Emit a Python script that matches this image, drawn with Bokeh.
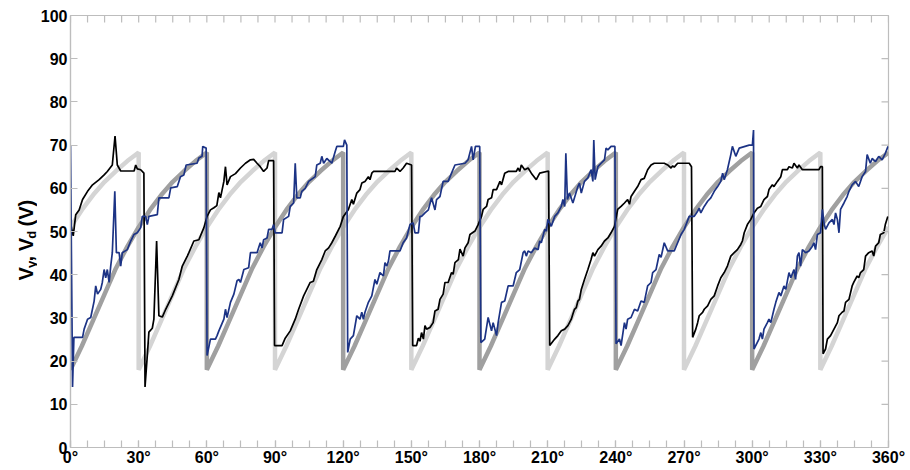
import math
from bokeh.plotting import figure
from bokeh.models import Range1d, FixedTicker
from bokeh.layouts import row
from bokeh.core.properties import value
from bokeh.embed import file_html
from bokeh.resources import INLINE

# ---------------- data ----------------
# ideal ramp profile (degrees after firing, volts)
ramp_phi = [0, 5, 10, 15, 20, 25, 30, 35, 40, 45, 50, 55, 60]
ramp_v = [18.0, 23.5, 29.5, 35.5, 41.5, 46.5, 51.0, 55.0, 58.5, 61.5, 64.0, 66.3, 68.3]
light_starts = [-30, 30, 90, 150, 210, 270, 330]
dark_starts = [0, 60, 120, 180, 240, 300]

black_deg = [0, 1.2, 2.3, 3.8, 5.3, 7.5, 9.7, 12.6, 14.8, 16.2, 18.4, 19.6, 20.6, 22.1, 28.0, 28.7, 29.4, 30.9, 32.3, 32.8,
             33.8, 34.5, 36.0, 36.7, 37.9, 38.9, 40.4, 41.9, 44.8, 47.7, 49.2, 51.4, 52.1, 54.3, 56.5, 58.7, 60.1, 61.6,
             63.1, 64.4, 65.3, 66.0, 67.5, 68.2, 68.9, 70.4, 72.6, 74.8, 77.0, 79.2, 80.6, 82.1, 83.5, 85.0, 86.5, 87.2,
             89.4, 89.8, 93.1, 94.5, 96.7, 98.9, 100.4, 102.6, 104.0, 105.5, 106.9, 108.4, 110.6, 112.1, 113.6, 115.0,
             116.5, 118.7, 120.1, 122.3, 123.8, 124.5, 126.0, 127.4, 128.2, 129.6, 131.1, 131.8, 132.6, 133.3, 142.8,
             143.5, 145.0, 146.4, 147.9, 150.1, 150.6, 152.3, 153.1, 153.8, 154.5, 155.3, 156.0, 156.7, 158.2, 159.6,
             160.4, 161.8, 162.6, 164.0, 164.8, 166.2, 167.7, 168.4, 169.2, 170.7, 171.4, 172.8, 173.6, 175.0, 175.8,
             178.0, 179.4, 180.9, 181.6, 183.1, 183.8, 185.3, 186.0, 187.5, 189.0, 189.7, 191.1, 192.6, 196.2, 197.0,
             197.7, 198.4, 199.9, 201.4, 202.8, 205.0, 206.5, 210.4, 210.9, 213.1, 214.5, 216.0, 217.5, 218.9, 219.6,
             220.4, 221.1, 221.8, 222.6, 223.3, 224.0, 224.8, 226.2, 227.7, 229.1, 229.9, 230.6, 232.1, 233.5, 235.0,
             236.5, 237.9, 239.4, 240.8, 242.3, 243.8, 245.2, 246.0, 246.7, 248.2, 249.6, 251.1, 252.5, 254.0, 255.5,
             256.9, 261.3, 262.8, 264.3, 265.0, 265.7, 267.2, 272.3, 273.3, 273.8, 275.2, 276.0, 276.7, 278.2, 278.9,
             280.4, 281.8, 283.3, 284.8, 286.2, 287.7, 289.1, 290.6, 292.1, 293.5, 295.0, 295.7, 296.5, 297.9, 299.4,
             300.8, 302.3, 303.8, 305.2, 306.7, 307.4, 308.9, 309.6, 311.1, 312.6, 313.3, 315.5, 316.2, 317.7, 318.4,
             319.9, 320.6, 322.1, 329.4, 330.1, 330.9, 331.2, 332.3, 333.1, 334.5, 336.0, 337.5, 338.2, 339.6, 340.4,
             341.1, 342.6, 344.0, 344.7, 346.2, 346.9, 347.7, 349.1, 349.9, 351.3, 352.8, 353.5, 354.3, 355.7, 356.4,
             357.9, 358.6, 359.7]
black_v = [52.0, 49.0, 53.9, 55.0, 57.4, 59.3, 60.8, 62.0, 63.1, 63.9, 65.4, 72.1, 65.4, 64.0, 64.0, 65.4, 64.5, 64.3, 63.5, 14.0,
           21.3, 26.7, 27.6, 29.7, 47.8, 30.5, 30.2, 32.0, 35.1, 38.9, 42.0, 44.3, 45.1, 47.8, 48.1, 50.9, 53.5, 55.0,
           55.5, 56.0, 59.0, 57.8, 61.6, 65.0, 60.8, 62.7, 63.4, 64.7, 65.8, 66.6, 66.7, 65.8, 65.0, 63.9, 64.7, 66.4,
           66.4, 23.6, 23.6, 25.3, 27.0, 29.7, 32.0, 35.1, 36.6, 38.2, 38.5, 41.2, 43.5, 45.5, 46.2, 47.4,
           48.9, 51.2, 53.5, 55.1, 57.4, 56.3, 58.9, 59.7, 61.2, 61.6, 62.7, 62.0, 63.5, 63.9, 63.9,
           64.7, 63.9, 64.7, 65.8, 65.4, 23.6, 23.6, 25.3, 24.6, 26.6, 25.1, 28.2, 27.4, 27.8, 28.9,
           31.6, 32.0, 34.3, 35.5, 38.2, 38.2, 40.5, 40.1, 42.8, 43.5, 45.9, 44.3, 46.2, 47.4, 49.3,
           50.1, 51.6, 53.5, 55.1, 55.8, 57.4, 57.8, 59.7, 59.7, 61.6, 60.8, 63.5, 63.9, 63.9, 64.7,
           63.9, 65.4, 64.3, 64.7, 63.5, 62.0, 63.5, 64.0, 23.6, 25.1, 25.9, 27.0, 27.4, 28.2, 28.9,
           29.7, 30.9, 32.0, 32.4, 33.9, 34.3, 36.6, 38.9, 41.2, 43.5, 45.1, 44.3, 45.8, 46.6, 47.8,
           48.5, 49.7, 51.2, 55.1, 55.8, 56.6, 57.4, 56.3, 58.1, 59.3, 60.4, 62.0, 62.3, 64.3, 65.4,
           65.8, 65.8, 65.4, 64.7, 65.2, 64.9, 65.8, 65.8, 65.0, 25.5, 27.4, 28.9, 30.5, 31.3, 32.0,
           32.8, 34.3, 35.1, 37.4, 39.3, 40.5, 42.0, 44.3, 45.1, 45.8, 47.0, 47.8, 49.7, 51.6, 52.8,
           54.3, 55.4, 55.8, 57.4, 58.1, 59.7, 60.8, 60.4, 61.6, 62.7, 64.3, 64.3, 65.0, 64.7, 65.8,
           64.7, 65.4, 64.3, 64.3, 65.0, 65.0, 21.7, 22.8, 25.1, 25.9, 27.4, 28.9, 30.5, 31.3, 31.6,
           33.6, 34.3, 37.4, 38.2, 39.7, 39.3, 40.5, 41.2, 44.3, 45.1, 45.5, 44.3, 46.6, 47.4, 49.3,
           49.7, 51.6, 53.5]

blue_deg = [0, 0.9, 1.5, 5.3, 6.0, 7.5, 8.9, 10.4, 11.1, 11.9, 13.3, 14.0, 14.8, 15.5, 16.2, 17.0, 17.7, 18.4, 19.5, 20.2,
            21.4, 22.1, 22.8, 25.0, 26.5, 27.9, 29.4, 30.9, 31.6, 33.1, 33.8, 34.5, 38.2, 38.9, 43.3, 44.1, 47.0, 48.4,
            49.9, 50.9, 55.7, 56.5, 57.9, 58.2, 59.7, 60.1, 61.6, 63.8, 64.5, 65.3, 67.5, 68.2, 68.9, 70.4, 71.9, 73.3,
            74.1, 74.8, 76.3, 78.4, 79.2, 82.1, 83.5, 84.3, 85.0, 86.5, 87.2, 88.7, 89.4, 90.1, 93.1, 93.8, 96.0, 96.7,
            98.2, 98.9, 99.6, 101.1, 101.8, 103.3, 104.8, 107.7, 108.4, 109.9, 110.6, 111.4, 112.8, 114.3, 115.0, 116.5,
            117.2, 120.1, 120.6, 121.6, 122.0, 123.1, 124.5, 126.0, 127.4, 128.2, 128.9, 129.6, 131.1, 132.6, 134.0,
            134.8, 136.2, 137.7, 138.4, 139.2, 139.9, 140.6, 145.0, 146.4, 147.9, 149.4, 150.8, 151.6, 153.1, 153.8,
            154.5, 156.0, 157.5, 158.9, 160.4, 161.1, 162.6, 164.0, 166.2, 167.7, 169.2, 173.6, 175.0, 176.5, 177.2,
            178.2, 180.1, 180.6, 182.3, 183.8, 185.3, 186.0, 187.5, 188.2, 189.7, 191.1, 192.6, 194.8, 196.2, 197.7,
            199.2, 199.9, 200.6, 201.4, 202.8, 204.3, 205.8, 206.5, 207.2, 208.7, 209.4, 210.1, 211.6, 213.1, 214.5,
            216.0, 216.7, 217.5, 218.0, 218.7, 219.6, 221.1, 221.8, 223.3, 224.0, 224.8, 226.2, 227.7, 229.1, 229.9,
            230.3, 230.9, 232.1, 233.5, 235.0, 235.7, 236.5, 237.9, 239.6, 240.1, 241.6, 242.3, 243.8, 244.5, 245.2,
            246.7, 248.2, 249.6, 251.1, 252.5, 254.0, 255.5, 256.2, 257.7, 259.1, 259.9, 261.3, 262.8, 265.7, 267.2,
            268.7, 270.1, 272.3, 274.5, 276.0, 276.7, 277.4, 278.9, 280.4, 281.8, 283.3, 284.8, 286.2, 287.0, 287.7,
            289.1, 290.6, 291.3, 292.8, 294.3, 298.7, 300.1, 300.6, 300.8, 303.0, 303.8, 304.5, 305.2, 306.7, 307.4,
            308.2, 309.6, 310.4, 311.8, 312.6, 314.0, 314.8, 316.2, 317.0, 318.4, 319.1, 319.9, 320.6, 321.3, 322.1,
            323.5, 325.0, 326.5, 327.2, 327.9, 328.7, 330.1, 330.9, 331.6, 332.3, 333.8, 335.3, 336.0, 336.7, 337.5,
            338.2, 338.9, 340.4, 341.8, 342.6, 344.0, 345.5, 346.9, 348.4, 349.9, 350.6, 352.0, 352.8, 354.3, 355.7,
            357.2, 358.6, 359.8]
blue_v = [70.0, 14.0, 25.5, 25.5, 27.4, 29.7, 30.1, 33.9, 37.4, 35.5, 36.6, 38.2, 41.2, 39.3, 41.2, 38.2, 42.0, 45.1, 59.3, 45.1,
          45.1, 42.0, 45.1, 45.8, 47.8, 49.3, 49.7, 50.9, 53.5, 53.5, 51.6, 53.5, 53.9, 57.8, 57.8, 60.1, 60.4, 62.7,
          63.1, 65.4, 65.8, 67.0, 67.4, 69.7, 69.3, 21.3, 25.1, 25.1, 25.9, 27.0, 29.7, 32.0, 30.1, 33.6, 35.5, 38.6,
          38.9, 38.2, 41.2, 41.6, 45.1, 45.1, 47.4, 46.2, 48.1, 48.5, 50.5, 50.5, 51.6, 49.7, 49.7, 52.8, 53.5, 55.8,
          56.6, 65.8, 57.8, 57.8, 59.3, 60.0, 61.6, 62.7, 65.4, 65.8, 67.4, 65.8, 66.9, 66.2, 65.8, 68.5,
          69.7, 69.7, 71.2, 70.0, 22.0, 25.1, 25.9, 30.5, 29.7, 31.3, 29.7, 31.3, 33.6, 35.1, 38.9,
          37.8, 40.5, 39.7, 42.8, 42.0, 43.1, 45.5, 45.5, 47.4, 48.5, 51.6, 52.0, 49.7, 49.7, 53.5,
          53.5, 54.3, 55.0, 57.8, 55.0, 57.4, 58.1, 61.6, 61.6, 63.5, 65.4, 65.8, 66.6, 69.7, 66.6,
          69.7, 69.7, 24.3, 25.1, 30.1, 27.0, 28.9, 25.9, 28.9, 33.6, 33.9, 37.4, 37.4, 40.5, 41.2,
          45.1, 45.5, 44.3, 45.5, 45.1, 46.2, 45.8, 47.8, 47.4, 50.5, 50.1, 52.8, 51.2, 53.5, 54.3,
          55.8, 57.4, 55.8, 68.1, 57.4, 58.9, 56.6, 57.8, 60.4, 61.2, 58.9, 61.6, 62.4, 64.3, 61.6,
          71.2, 62.0, 65.0, 65.8, 66.6, 69.3, 68.9, 69.7, 69.7, 24.0, 25.1, 23.6, 28.9, 27.4, 29.7,
          30.1, 32.0, 31.6, 33.9, 33.6, 37.4, 38.2, 40.5, 41.2, 44.7, 44.0, 47.4, 45.5, 45.5, 47.4,
          49.3, 50.5, 53.5, 53.5, 54.7, 55.4, 54.3, 55.8, 57.0, 57.8, 59.3, 60.4, 61.6, 63.5, 62.0,
          64.3, 67.8, 69.7, 67.4, 69.3, 70.0, 70.0, 73.5, 22.8, 25.1, 26.6, 25.1, 27.4, 28.9, 29.7,
          28.9, 32.0, 33.6, 35.9, 35.1, 37.4, 36.6, 40.5, 39.3, 41.2, 38.9, 44.3, 45.1, 42.0, 45.8,
          45.1, 45.5, 46.6, 47.4, 45.8, 49.3, 49.7, 55.1, 52.0, 50.5, 52.0, 52.8, 51.6, 54.3, 52.8,
          49.7, 55.1, 56.6, 58.1, 59.3, 60.8, 61.6, 60.4, 62.7, 63.9, 67.8, 65.8, 66.9, 66.2, 67.4,
          66.6, 68.1, 69.7]

x_ticks = [0, 30, 60, 90, 120, 150, 180, 210, 240, 270, 300, 330, 360]
x_tick_labels = ["0°", "30°", "60°", "90°", "120°", "150°", "180°", "210°", "240°", "270°", "300°", "330°", "360°"]
y_ticks = [0, 10, 20, 30, 40, 50, 60, 70, 80, 90, 100]

# y-axis title pieces: (text, is_subscript)
title_parts = [("V", False), ("y", True), (", ", False), ("V", False), ("d", True), (" (V)", False)]

# ---------------- build ideal sawtooth lines ----------------
def sawtooth(starts):
    xs, ys = [], []
    for s in starts:
        for ph, v in zip(ramp_phi, ramp_v):
            x = s + ph
            if 0 <= x <= 360:
                xs.append(x)
                ys.append(v)
    return xs, ys

lx, ly = sawtooth(light_starts)
dx, dy = sawtooth(dark_starts)

FONT = "Liberation Sans"
AX = "#bdbdbd"
H = 468
TITLE_W = 37
MAIN_W = 868
FRAME_W = 820
FRAME_H = 434
TICK = 7

p = figure(width=MAIN_W, height=H, x_range=Range1d(0, 360), y_range=Range1d(0, 100),
           output_backend="svg", toolbar_location=None,
           min_border_left=31, min_border_right=MAIN_W - 31 - FRAME_W, min_border_top=15,
           min_border_bottom=H - 15 - FRAME_H)
p.xgrid.visible = False
p.ygrid.visible = False
p.outline_line_color = AX
p.outline_line_width = 1.2
p.background_fill_color = "white"

p.line(lx, ly, line_color="#d4d4d4", line_width=4.5)
p.line(dx, dy, line_color="#a0a0a0", line_width=4.5)
p.line(black_deg, black_v, line_color="black", line_width=1.7)
p.line(blue_deg, blue_v, line_color="#1c3385", line_width=1.7)

x_minor = [i * 7.5 for i in range(49)]

def style(ax):
    ax.axis_line_color = AX
    ax.axis_line_width = 1.2
    ax.major_tick_line_color = AX
    ax.minor_tick_line_color = AX
    ax.major_tick_line_width = 1.2
    ax.minor_tick_line_width = 1.2
    ax.major_tick_in = TICK
    ax.major_tick_out = 0
    ax.minor_tick_in = TICK
    ax.minor_tick_out = 0
    ax.major_label_text_font = FONT
    ax.major_label_text_font_style = "bold"
    ax.major_label_text_font_size = "16px"
    ax.major_label_text_color = "black"

xa = p.xaxis[0]
style(xa)
xa.ticker = FixedTicker(ticks=x_ticks, minor_ticks=x_minor)
xa.major_label_overrides = {t: s for t, s in zip(x_ticks, x_tick_labels)}
xa.major_label_standoff = 1

ya = p.yaxis[0]
style(ya)
ya.ticker = FixedTicker(ticks=y_ticks, minor_ticks=[])
ya.minor_tick_line_color = None
ya.major_label_standoff = 3

# mirrored tick marks on top and right frame edges
dy_tick = TICK * 100.0 / FRAME_H
dx_tick = TICK * 360.0 / FRAME_W
p.segment(x0=x_minor, y0=[100] * len(x_minor), x1=x_minor, y1=[100 - dy_tick] * len(x_minor),
          line_color=AX, line_width=1.2)
p.segment(x0=[360] * len(y_ticks), y0=y_ticks, x1=[360 - dx_tick] * len(y_ticks), y1=y_ticks,
          line_color=AX, line_width=1.2)

# ---------------- y-axis title as separate narrow panel ----------------
t = figure(width=TITLE_W, height=H, x_range=Range1d(0, TITLE_W), y_range=Range1d(0, H),
           output_backend="svg", toolbar_location=None, min_border=0)
t.axis.visible = False
t.xgrid.visible = False
t.ygrid.visible = False
t.outline_line_color = None

MAIN_SIZE, SUB_SIZE = 20, 13
# advance widths (em) for Liberation Sans Bold
adv = {"V": 0.667, "y": 0.556, "d": 0.611, ",": 0.278, " ": 0.278, "(": 0.333, ")": 0.333}
ypos = H - 287.0
for txt, sub in title_parts:
    size = SUB_SIZE if sub else MAIN_SIZE
    lead = len(txt) - len(txt.lstrip())
    ypos += lead * adv[" "] * size
    core = txt.strip()
    t.text(x=[30.5 if sub else 25.0], y=[ypos], text=[core], angle=math.pi / 2,
           text_align="left", text_baseline="alphabetic",
           text_font=value(FONT), text_font_style="bold",
           text_font_size=value(f"{size}px"), text_color="black")
    ypos += sum(adv[c] for c in txt.lstrip()) * size

layout = row(t, p)
open("out.html", "w").write(file_html(layout, INLINE))
